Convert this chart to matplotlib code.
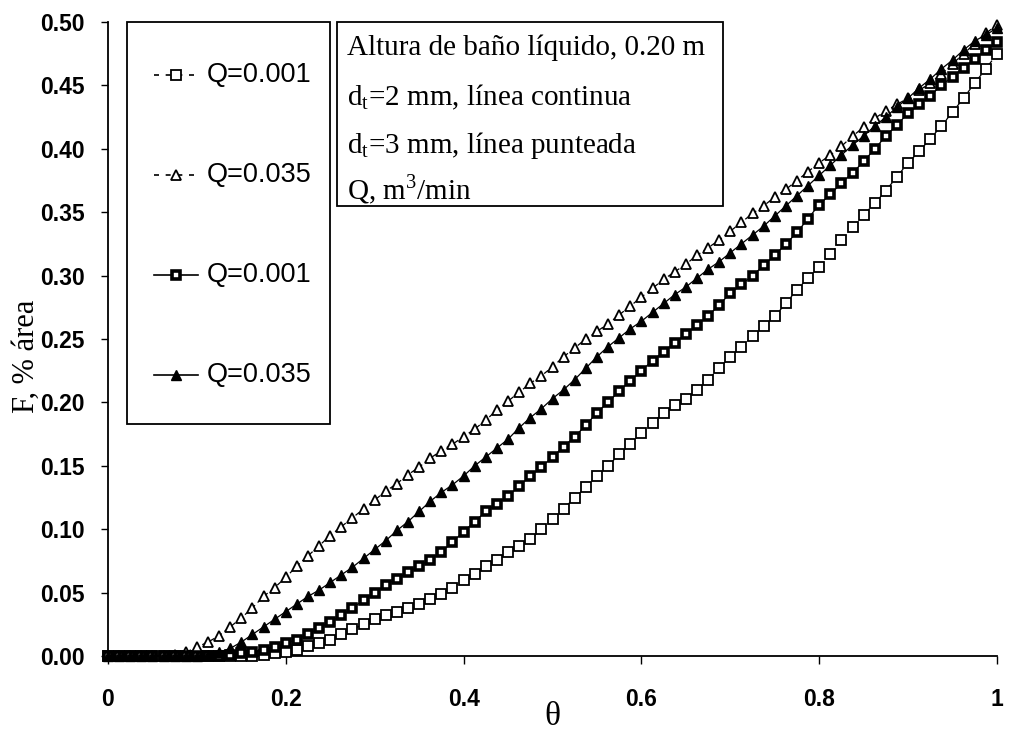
import numpy as np
import matplotlib
matplotlib.use("Agg")
import matplotlib.pyplot as plt
from matplotlib.lines import Line2D
from matplotlib.patches import Rectangle

# ---- data ----
theta = np.linspace(0.0, 1.0, 81)  # sampling grid, step 0.0125

# Q=0.001, d_t=3 mm (dashed, open squares)
f_q001_3mm = [0.000, 0.000, 0.000, 0.000, 0.000, 0.000, 0.000, 0.000, 0.000, 0.000,
              0.000, 0.000, 0.000, 0.000, 0.001, 0.002, 0.003, 0.005, 0.008, 0.010,
              0.013, 0.017, 0.021, 0.025, 0.029, 0.032, 0.035, 0.038, 0.041, 0.045,
              0.049, 0.054, 0.060, 0.065, 0.071, 0.076, 0.082, 0.087, 0.092, 0.100,
              0.108, 0.116, 0.125, 0.133, 0.142, 0.150, 0.159, 0.167, 0.176, 0.184,
              0.192, 0.198, 0.203, 0.210, 0.218, 0.227, 0.236, 0.244, 0.252, 0.260,
              0.268, 0.278, 0.289, 0.298, 0.307, 0.317, 0.328, 0.338, 0.348, 0.357,
              0.367, 0.378, 0.389, 0.398, 0.408, 0.418, 0.429, 0.440, 0.452, 0.463,
              0.475]

# Q=0.035, d_t=3 mm (dashed, open triangles)
f_q035_3mm = [0.000, 0.000, 0.000, 0.000, 0.000, 0.000, 0.001, 0.003, 0.007, 0.011,
              0.016, 0.023, 0.030, 0.038, 0.047, 0.054, 0.062, 0.071, 0.079, 0.087,
              0.095, 0.102, 0.109, 0.116, 0.123, 0.130, 0.136, 0.143, 0.149, 0.156,
              0.162, 0.167, 0.173, 0.179, 0.186, 0.194, 0.201, 0.208, 0.215, 0.221,
              0.228, 0.236, 0.243, 0.250, 0.256, 0.262, 0.269, 0.276, 0.283, 0.290,
              0.297, 0.303, 0.309, 0.316, 0.322, 0.328, 0.335, 0.342, 0.349, 0.355,
              0.362, 0.368, 0.375, 0.382, 0.389, 0.395, 0.402, 0.410, 0.417, 0.424,
              0.430, 0.435, 0.440, 0.446, 0.452, 0.459, 0.467, 0.475, 0.483, 0.491,
              0.498]

# Q=0.001, d_t=2 mm (solid, squares)
f_q001_2mm = [0.000, 0.000, 0.000, 0.000, 0.000, 0.000, 0.000, 0.000, 0.000, 0.000,
              0.000, 0.001, 0.002, 0.003, 0.005, 0.007, 0.010, 0.013, 0.017, 0.022,
              0.027, 0.032, 0.038, 0.044, 0.050, 0.056, 0.061, 0.066, 0.071, 0.076,
              0.082, 0.090, 0.098, 0.106, 0.114, 0.120, 0.126, 0.134, 0.142, 0.149,
              0.157, 0.165, 0.173, 0.182, 0.192, 0.200, 0.209, 0.217, 0.225, 0.233,
              0.240, 0.247, 0.254, 0.261, 0.268, 0.277, 0.286, 0.293, 0.300, 0.308,
              0.316, 0.325, 0.334, 0.345, 0.356, 0.364, 0.373, 0.381, 0.390, 0.400,
              0.410, 0.419, 0.428, 0.435, 0.442, 0.450, 0.457, 0.464, 0.471, 0.478,
              0.484]

# Q=0.035, d_t=2 mm (solid, filled triangles)
f_q035_2mm = [0.000, 0.000, 0.000, 0.000, 0.000, 0.000, 0.000, 0.000, 0.000, 0.001,
              0.003, 0.006, 0.011, 0.017, 0.023, 0.029, 0.035, 0.041, 0.047, 0.052,
              0.058, 0.064, 0.070, 0.077, 0.084, 0.091, 0.099, 0.106, 0.114, 0.122,
              0.129, 0.135, 0.142, 0.150, 0.157, 0.164, 0.171, 0.180, 0.188, 0.195,
              0.203, 0.210, 0.218, 0.227, 0.236, 0.244, 0.251, 0.258, 0.264, 0.271,
              0.278, 0.285, 0.291, 0.298, 0.305, 0.311, 0.318, 0.325, 0.332, 0.339,
              0.347, 0.355, 0.363, 0.371, 0.379, 0.387, 0.395, 0.403, 0.410, 0.418,
              0.425, 0.433, 0.440, 0.448, 0.455, 0.463, 0.470, 0.478, 0.485, 0.490,
              0.495]

labels = ["Q=0.001", "Q=0.035", "Q=0.001", "Q=0.035"]
x_ticks = [0, 0.2, 0.4, 0.6, 0.8, 1.0]
x_ticklabels = ["0", "0.2", "0.4", "0.6", "0.8", "1"]
y_ticks = [0.00, 0.05, 0.10, 0.15, 0.20, 0.25, 0.30, 0.35, 0.40, 0.45, 0.50]
note_lines = ["Altura de baño líquido, 0.20 m",
              "d$_{\\mathregular{t}}$=2 mm, línea continua",
              "d$_{\\mathregular{t}}$=3 mm, línea punteada",
              "Q, m$^{\\mathregular{3}}$/min"]

# ---- styles ----
W, H = 1011, 751
SANS = "Liberation Sans"
SERIF = "Liberation Serif"
plt.rcParams["mathtext.fontset"] = "custom"
plt.rcParams["mathtext.rm"] = SERIF

styles = [
    dict(ls=(0, (4, 3)), marker="s", ms=6.5, mfc="white", mec="black", mew=1.3),
    dict(ls=(0, (4, 3)), marker="^", ms=7.5, mfc="white", mec="black", mew=1.3),
    dict(ls="-", marker="s", ms=6.0, mfc="white", mec="black", mew=2.6),
    dict(ls="-", marker="^", ms=7.5, mfc="black", mec="black", mew=1.0),
]
series = [f_q001_3mm, f_q035_3mm, f_q001_2mm, f_q035_2mm]

fig = plt.figure(figsize=(W / 100, H / 100), dpi=100)
ax_l, ax_r, ax_t, ax_b = 108, 997, 22, 656
ax = fig.add_axes([ax_l / W, 1 - ax_b / H, (ax_r - ax_l) / W, (ax_b - ax_t) / H])

for vals, st in zip(series, styles):
    ax.plot(theta, vals, color="black", lw=0.9, clip_on=False, zorder=3, **st)

ax.set_xlim(0, 1)
ax.set_ylim(0, 0.5)
ax.spines["top"].set_visible(False)
ax.spines["right"].set_visible(False)
for s in ("left", "bottom"):
    ax.spines[s].set_linewidth(1.3)
ax.set_xticks(x_ticks)
ax.set_xticklabels(x_ticklabels)
ax.set_yticks(y_ticks)
ax.set_yticklabels([f"{v:.2f}" for v in y_ticks])
ax.tick_params(axis="both", direction="out", width=1.0)
ax.tick_params(axis="x", length=6, pad=17)
ax.tick_params(axis="y", length=5, pad=12)
for lab in ax.get_xticklabels() + ax.get_yticklabels():
    lab.set_fontfamily(SANS)
    lab.set_fontweight("bold")
    lab.set_fontsize(16.5)

ax.set_xlabel("θ", fontsize=24, fontfamily=SERIF)
ax.xaxis.set_label_coords(0.5, -0.072)
ax.set_ylabel("F, % área", fontsize=22, fontfamily=SERIF)
ax.yaxis.set_label_coords(-0.075, 0.473)


def fx(px):
    return px / W


def fy(py):
    return 1 - py / H


# ---- legend box (manual) ----
fig.patches.append(Rectangle((fx(127), fy(424)), fx(330) - fx(127), fy(22) - fy(424),
                             transform=fig.transFigure, fill=False, lw=1.3,
                             edgecolor="black", zorder=5))
row_y = [75, 175, 275, 375]
for yy, lab, st in zip(row_y, labels, styles):
    st2 = dict(st)
    if st2["ls"] != "-":
        st2["ls"] = (0, (3, 4))
    ln = Line2D([fx(154), fx(176), fx(198)], [fy(yy)] * 3, transform=fig.transFigure,
                color="black", lw=1.2, markevery=[1], **st2)
    fig.lines.append(ln)
    fig.text(fx(207), fy(yy), lab, fontsize=19.5, fontfamily=SANS,
             va="center", ha="left")

# ---- note box (manual) ----
fig.patches.append(Rectangle((fx(337), fy(206)), fx(723) - fx(337), fy(22) - fy(206),
                             transform=fig.transFigure, fill=False, lw=1.3,
                             edgecolor="black", zorder=5))
for yy, line in zip([55, 105, 153, 200], note_lines):
    fig.text(fx(347), fy(yy), line, fontsize=21, fontfamily=SERIF,
             va="baseline", ha="left")

fig.savefig("out.png", dpi=100)
